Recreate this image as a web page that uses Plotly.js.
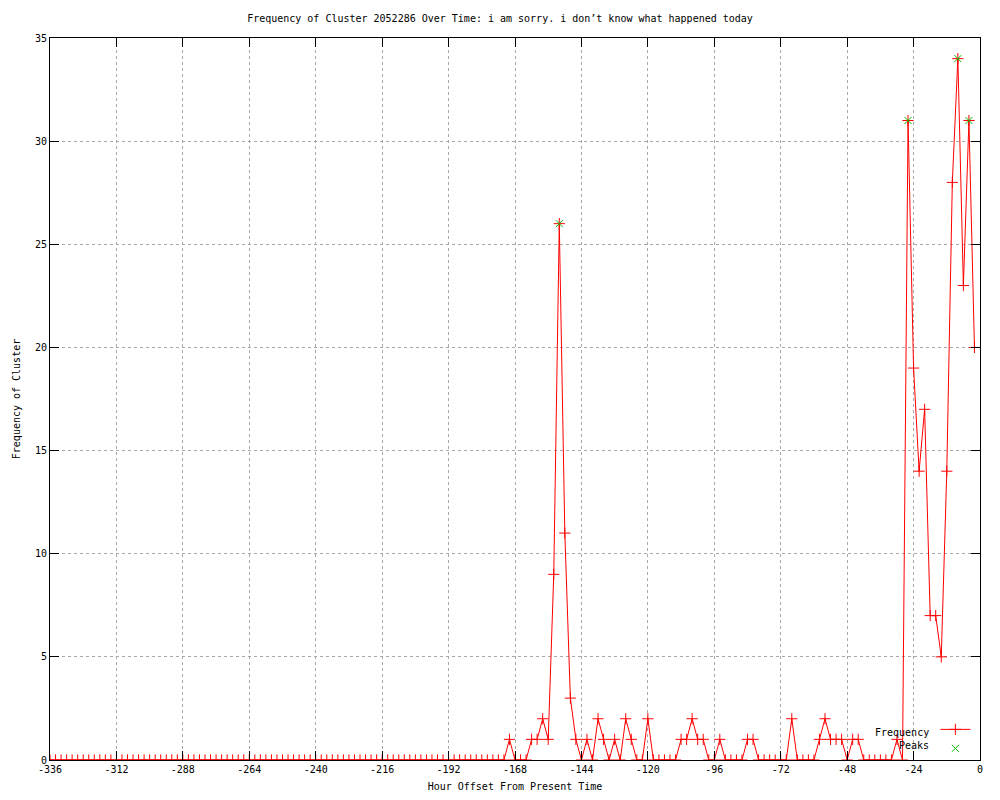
<!DOCTYPE html>
<html>
<head>
<meta charset="utf-8">
<script src="https://cdn.plot.ly/plotly-3.0.1.min.js"></script>
<style>html,body{margin:0;padding:0;background:#fff;}#chart{width:1000px;height:800px;}</style>
</head>
<body>
<div id="chart"></div>
<script>
// Hour offsets (2-hour bins)
const hours = [
-336,-334,-332,-330,-328,-326,-324,-322,-320,-318,
-316,-314,-312,-310,-308,-306,-304,-302,-300,-298,
-296,-294,-292,-290,-288,-286,-284,-282,-280,-278,
-276,-274,-272,-270,-268,-266,-264,-262,-260,-258,
-256,-254,-252,-250,-248,-246,-244,-242,-240,-238,
-236,-234,-232,-230,-228,-226,-224,-222,-220,-218,
-216,-214,-212,-210,-208,-206,-204,-202,-200,-198,
-196,-194,-192,-190,-188,-186,-184,-182,-180,-178,
-176,-174,-172,
-170,-168,-166,-164,-162,-160,-158,-156,-154,-152,
-150,-148,-146,-144,-142,-140,-138,-136,-134,-132,
-130,-128,-126,-124,-122,-120,-118,-116,-114,-112,
-110,-108,-106,-104,-102,-100,-98,-96,-94,-92,
-90,-88,-86,-84,-82,-80,-78,-76,-74,-72,
-70,-68,-66,-64,-62,-60,-58,-56,-54,-52,
-50,-48,-46,-44,-42,-40,-38,-36,-34,-32,
-30,-28,-26,-24,-22,-20,-18,-16,-14,-12,
-10,-8,-6,-4,-2
];
const frequency = [
0,0,0,0,0,0,0,0,0,0,
0,0,0,0,0,0,0,0,0,0,
0,0,0,0,0,0,0,0,0,0,
0,0,0,0,0,0,0,0,0,0,
0,0,0,0,0,0,0,0,0,0,
0,0,0,0,0,0,0,0,0,0,
0,0,0,0,0,0,0,0,0,0,
0,0,0,0,0,0,0,0,0,0,
0,0,0,
1,0,0,0,1,1,2,1,9,26,
11,3,1,0,1,0,2,1,0,1,
0,2,1,0,0,2,0,0,0,0,
0,1,1,2,1,1,0,0,1,0,
0,0,0,1,1,0,0,0,0,0,
0,2,0,0,0,0,1,2,1,1,
1,0,1,1,0,0,0,0,0,0,
1,0,31,19,14,17,7,7,5,14,
28,34,23,31,20
];
const peakHours = [-152, -26, -8, -4];
const peakValues = [26, 31, 34, 31];
const xTicks = [-336,-312,-288,-264,-240,-216,-192,-168,-144,-120,-96,-72,-48,-24,0];
const yTicks = [0,5,10,15,20,25,30,35];
const seriesNames = ["Frequency", "Peaks"];

const FONT = "DejaVu Sans Mono, monospace";

const traces = [
  {
    x: hours, y: frequency, type: "scatter", mode: "lines+markers", name: " ",
    line: {color: "#ff0000", width: 1},
    marker: {symbol: "cross-thin", size: 8, line: {color: "#ff0000", width: 1}, color: "#ff0000"}
  },
  {
    x: peakHours, y: peakValues, type: "scatter", mode: "markers", name: " ",
    marker: {symbol: "x-thin", size: 7, line: {color: "#00c000", width: 1}, color: "#00c000"}
  }
];

const axisCommon = {
  showline: true, linecolor: "#000", linewidth: 1, mirror: "ticks",
  ticks: "inside", ticklen: 9, tickcolor: "#000", tickwidth: 1,
  showgrid: true, gridcolor: "#a8a8a8", griddash: "dot", gridwidth: 1,
  zeroline: false, tickfont: {family: FONT, size: 10, color: "#000"}
};

const layout = {
  width: 1000, height: 800,
  paper_bgcolor: "#fff", plot_bgcolor: "#fff",
  margin: {l: 50, r: 20, t: 38, b: 40},
  font: {family: FONT, size: 10, color: "#000"},
  title: {text: "Frequency of Cluster 2052286 Over Time: i am sorry. i don\u2019t know what happened today",
          font: {family: FONT, size: 10, color: "#000"}, x: 0.5, xanchor: "center", y: 0.977, yanchor: "middle"},
  xaxis: Object.assign({}, axisCommon, {
    range: [-336, 0], tickmode: "array", tickvals: xTicks, ticktext: xTicks.map(v => v === 0 ? "0" : "-" + Math.abs(v)),
    title: {text: "Hour Offset From Present Time", font: {family: FONT, size: 10, color: "#000"}, standoff: 8}
  }),
  yaxis: Object.assign({}, axisCommon, {
    range: [0, 35], tickmode: "array", tickvals: yTicks, ticktext: yTicks.map(String),
    title: {text: "Frequency of Cluster", font: {family: FONT, size: 10, color: "#000"}, standoff: 12}
  }),
  showlegend: true,
  legend: {x: 0.952, xanchor: "left", y: -0.004, yanchor: "bottom", bgcolor: "rgba(0,0,0,0)",
           borderwidth: 0, font: {family: FONT, size: 4}, itemwidth: 30, tracegroupgap: 0, traceorder: "normal"},
  annotations: [
    {xref: "paper", yref: "paper", x: 0.947, y: 0.0374, xanchor: "right", yanchor: "middle", showarrow: false,
     text: seriesNames[0], font: {family: FONT, size: 10, color: "#000"}},
    {xref: "paper", yref: "paper", x: 0.947, y: 0.0194, xanchor: "right", yanchor: "middle", showarrow: false,
     text: seriesNames[1], font: {family: FONT, size: 10, color: "#000"}}
  ]
};

Plotly.newPlot("chart", traces, layout, {displayModeBar: false, staticPlot: true});
</script>
</body>
</html>
